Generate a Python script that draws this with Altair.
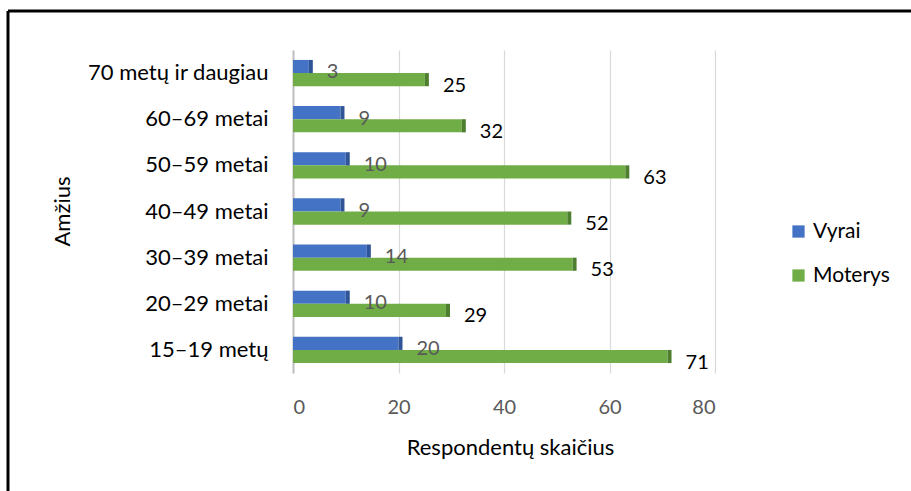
import altair as alt
import pandas as pd

categories = ["15–19 metų", "20–29 metai", "30–39 metai", "40–49 metai",
              "50–59 metai", "60–69 metai", "70 metų ir daugiau"]
vyrai = [20, 10, 14, 9, 10, 9, 3]
moterys = [71, 29, 53, 52, 63, 32, 25]
series = ["Vyrai", "Moterys"]
x_ticks = [0, 20, 40, 60, 80]

rows = []
for c, v, m in zip(categories, vyrai, moterys):
    rows.append({"cat": c, "series": "Vyrai", "v": v})
    rows.append({"cat": c, "series": "Moterys", "v": m})
df = pd.DataFrame(rows)

FONT = "Lato"
W, H = 422, 323
PL, PT = 293, 50

y_order = list(reversed(categories))
yscale = alt.Scale(domain=y_order, paddingInner=0.43, paddingOuter=0.215)
xscale = alt.Scale(domain=[0, 80], nice=False)
yoff = alt.YOffset("series:N", sort=series, scale=alt.Scale(domain=series))

base = alt.Chart(df)

bars = base.mark_bar().encode(
    x=alt.X("v:Q", scale=xscale,
            axis=alt.Axis(values=x_ticks, title="Respondentų skaičius",
                          grid=True, gridColor="#d9d9d9", gridWidth=1.2,
                          domain=False, ticks=False,
                          labelFontSize=20, labelColor="#595959", labelPadding=24,
                          labelFont=FONT, titleFont=FONT, titleFontSize=22,
                          titleFontWeight="normal", titleColor="#000000",
                          titleX=217, titleY=74, titleBaseline="middle")),
    y=alt.Y("cat:N", sort=y_order, scale=yscale,
            axis=alt.Axis(title="Amžius", domain=True, domainColor="#bfbfbf",
                          domainWidth=2, ticks=False, labelLimit=400,
                          labelFontSize=22, labelColor="#000000", labelPadding=25,
                          labelFont=FONT, titleFont=FONT, titleFontSize=22,
                          titleFontWeight="normal", titleColor="#000000",
                          titleAngle=-90, titleX=-231, titleY=161,
                          titleBaseline="middle", titleAlign="center")),
    yOffset=yoff,
    color=alt.Color("series:N", sort=series,
                    scale=alt.Scale(domain=series, range=["#4472C4", "#70AD47"]),
                    legend=alt.Legend(title=None, orient="none", legendX=495,
                                      legendY=171, symbolType="square",
                                      symbolSize=150, symbolStrokeWidth=0,
                                      labelFont=FONT, labelFontSize=21,
                                      labelColor="#000000", rowPadding=22,
                                      labelOffset=4)),
)

side = base.mark_bar(x2Offset=4).encode(
    x=alt.X("v:Q", scale=xscale),
    x2=alt.X2("v"),
    y=alt.Y("cat:N", sort=y_order, scale=yscale),
    yOffset=yoff,
    color=alt.Color("series:N", sort=series,
                    scale=alt.Scale(domain=series, range=["#2F5597", "#4E7F2F"]),
                    legend=None),
)

txt_v = base.transform_filter(alt.datum.series == "Vyrai").mark_text(
    align="left", baseline="middle", dx=18, dy=6, fontSize=20, font=FONT,
    color="#595959").encode(
    x=alt.X("v:Q", scale=xscale),
    y=alt.Y("cat:N", sort=y_order, scale=yscale),
    yOffset=yoff,
    text="v:Q",
)
txt_m = base.transform_filter(alt.datum.series == "Moterys").mark_text(
    align="left", baseline="middle", dx=18, dy=6, fontSize=20, font=FONT,
    color="#000000").encode(
    x=alt.X("v:Q", scale=xscale),
    y=alt.Y("cat:N", sort=y_order, scale=yscale),
    yOffset=yoff,
    text="v:Q",
)

border_left = alt.Chart(pd.DataFrame({"a": [0]})).mark_rule(
    color="#000000", strokeWidth=3).encode(
    x=alt.value(8 - PL), y=alt.value(11 - PT), y2=alt.value(600))
border_top = alt.Chart(pd.DataFrame({"a": [0]})).mark_rule(
    color="#000000", strokeWidth=3).encode(
    x=alt.value(8 - PL), x2=alt.value(1000), y=alt.value(11 - PT))

chart = alt.layer(bars, side, txt_v, txt_m, border_left, border_top).resolve_scale(
    color="independent"
).properties(
    width=W, height=H,
    autosize=alt.AutoSizeParams(type="none"),
    padding={"left": PL, "top": PT, "right": 911 - PL - W, "bottom": 491 - PT - H},
    background="#ffffff",
).configure_view(stroke=None)

chart.save("out.html", embed_options={"renderer": "svg", "actions": False})
